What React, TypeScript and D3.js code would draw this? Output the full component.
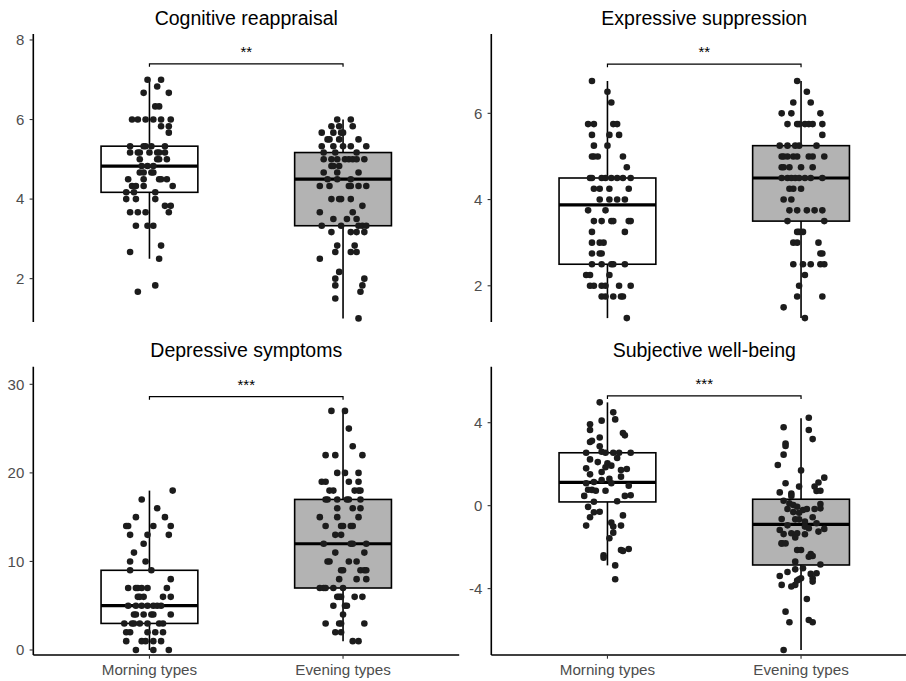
import React from 'react';
import * as d3 from 'd3';

// group labels and panel titles
const groups = ['Morning types', 'Evening types'];
const titles = ['Cognitive reappraisal', 'Expressive suppression', 'Depressive symptoms', 'Subjective well-being'];

// y tick values and axis limits per panel
const yTicks = [[2, 4, 6, 8], [2, 4, 6], [0, 10, 20, 30], [-4, 0, 4]];
const yLimits = [[0.91, 8.15], [1.16, 7.84], [-0.565, 31.99], [-7.2, 6.7]];

// significance brackets
const sigLabels = ['**', '**', '***', '***'];
const sigHeights = [7.4, 7.14, 28.6, 5.29];

// box stats: [whisker low, q1, median, q3, whisker high]
const boxMorning = [[2.5, 4.17, 4.83, 5.33, 7], [1.25, 2.5, 3.875, 4.5, 6.75], [0, 3, 5, 9, 18], [-2.88, 0.18, 1.12, 2.55, 4.98]];
const boxEvening = [[1, 3.33, 4.5, 5.17, 6], [1.25, 3.5, 4.5, 5.25, 6.75], [1, 7, 12, 17, 27], [-6.96, -2.86, -0.9, 0.31, 4.21]];

// raw points: [value, jitter]
const cogMorning: [number, number][] = [
  [7, -0.01], [7, 0.06], [6.83, 0.04], [6.67, -0.03], [6.67, 0.1], [6.33, 0.03], [6.33, 0.05],
  [6, -0.09], [6, -0.06], [6, -0.02], [6, 0.02], [6, 0.06], [6, 0.11], [5.83, 0.06], [5.83, 0.1], [5.67, 0.1],
  [5.33, -0.1], [5.33, -0.03], [5.33, -0.02], [5.33, 0.01], [5.33, 0.08],
  [5.17, -0.1], [5.17, -0.06], [5.17, -0.05], [5.17, 0], [5.17, 0.04], [5.17, 0.05], [5.17, 0.08],
  [5, -0.05], [5, 0.04], [5, 0.05], [5, 0.09], [4.83, -0.04], [4.83, -0.01], [4.83, 0.02],
  [4.67, -0.05], [4.67, -0.03], [4.67, 0.01], [4.67, 0.02],
  [4.5, -0.11], [4.5, -0.03], [4.5, 0.05], [4.5, 0.06], [4.5, 0.09],
  [4.33, -0.09], [4.33, -0.07], [4.33, -0.03], [4.33, 0.12], [4.17, -0.12], [4.17, -0.08], [4.17, 0.03],
  [4, -0.12], [4, -0.07], [4, 0.03], [3.83, 0.08], [3.83, 0.11],
  [3.67, -0.1], [3.67, -0.06], [3.67, -0.02], [3.67, 0.1], [3.33, -0.07], [3.33, -0.01], [3.33, 0.02],
  [2.83, 0.06], [2.67, -0.1], [2.5, 0.05], [1.83, 0.03], [1.67, -0.06],
];
const cogEvening: [number, number][] = [
  [6, -0.03], [6, 0.04], [5.83, -0.06], [5.83, -0.02], [5.83, 0.05],
  [5.67, -0.11], [5.67, -0.05], [5.67, -0.01], [5.67, 0], [5.5, -0.08], [5.5, -0.07], [5.5, -0.02], [5.5, 0.08],
  [5.33, -0.11], [5.33, -0.05], [5.33, 0], [5.33, 0.04], [5.33, 0.12], [5.17, -0.1], [5.17, -0.04], [5.17, 0.07],
  [5, -0.1], [5, -0.06], [5, -0.03], [5, 0.01], [5, 0.03], [5, 0.05], [5, 0.07], [5, 0.11],
  [4.83, -0.06], [4.83, -0.05], [4.83, -0.02], [4.67, -0.1], [4.67, -0.03], [4.67, 0.08],
  [4.5, -0.08], [4.5, -0.03], [4.5, 0.04], [4.33, -0.12], [4.33, -0.07], [4.33, 0.03], [4.33, 0.04], [4.33, 0.08], [4.33, 0.12],
  [4, -0.06], [4, -0.02], [4, -0.01], [4, 0.04], [3.83, 0.1], [3.67, -0.12], [3.67, 0.05],
  [3.5, -0.05], [3.5, 0.02], [3.5, 0.07], [3.33, -0.11], [3.33, -0.01], [3.33, 0.08], [3.33, 0.1], [3.33, 0.12],
  [3.17, -0.06], [3.17, 0.04], [3.17, 0.07], [3.17, 0.11], [2.83, -0.03], [2.83, 0.06],
  [2.67, -0.04], [2.67, 0.04], [2.67, 0.07], [2.5, -0.12], [2.17, -0.02], [2, -0.04], [2, 0.11],
  [1.83, -0.04], [1.83, 0.1], [1.67, 0.09], [1.5, -0.04], [1, 0.08],
];
const exprMorning: [number, number][] = [
  [6.75, -0.08], [6.5, 0], [6.25, 0.02], [5.75, -0.1], [5.75, -0.07], [5.75, 0.03], [5.75, 0.05],
  [5.5, -0.08], [5.5, 0.01], [5.5, 0.06], [5.25, -0.07], [5.25, 0],
  [5, -0.08], [5, -0.07], [5, -0.05], [5, 0.08], [4.75, 0.1],
  [4.5, -0.09], [4.5, -0.08], [4.5, -0.03], [4.5, -0.01], [4.5, 0.02], [4.5, 0.05], [4.5, 0.08], [4.5, 0.12],
  [4.25, -0.07], [4.25, -0.04], [4.25, 0.01], [4.25, 0.11], [4, -0.04], [4, 0.01], [4, 0.05], [4, 0.09],
  [3.75, -0.1], [3.75, -0.01], [3.5, -0.07], [3.5, -0.03], [3.5, 0.02], [3.5, 0.03], [3.5, 0.11], [3.5, 0.12],
  [3.25, -0.08], [3.25, 0.09], [3, -0.08], [3, -0.04], [3, -0.02], [2.75, -0.08], [2.75, -0.04], [2.75, -0.03],
  [2.5, -0.08], [2.5, -0.03], [2.5, 0.02], [2.5, 0.03], [2.5, 0.09], [2.25, -0.11], [2.25, -0.09], [2.25, 0.01],
  [2, -0.09], [2, -0.07], [2, -0.03], [2, -0.01], [2, 0.06], [2, 0.12],
  [1.75, -0.03], [1.75, -0.01], [1.75, 0.03], [1.75, 0.07], [1.75, 0.08], [1.25, 0.1],
];
const exprEvening: [number, number][] = [
  [6.75, -0.02], [6.5, 0.03], [6.25, -0.04], [6.25, 0.05], [6, -0.1], [6, -0.05], [6, 0.1],
  [5.75, -0.07], [5.75, -0.02], [5.75, -0.01], [5.75, 0.02], [5.75, 0.04], [5.75, 0.06], [5.75, 0.11], [5.5, 0.11],
  [5.25, -0.11], [5.25, -0.07], [5.25, -0.03], [5.25, -0.01], [5.25, 0.08],
  [5, -0.1], [5, -0.09], [5, -0.07], [5, -0.04], [5, -0.02], [5, 0.04], [5, 0.06], [5, 0.12],
  [4.75, -0.1], [4.75, -0.09], [4.75, -0.06], [4.75, 0], [4.75, 0.06],
  [4.5, -0.1], [4.5, -0.07], [4.5, -0.05], [4.5, -0.03], [4.5, -0.01], [4.5, 0.02], [4.5, 0.05], [4.5, 0.11],
  [4.25, -0.06], [4.25, -0.04], [4.25, 0], [4, -0.09], [4, -0.05],
  [3.75, -0.06], [3.75, -0.02], [3.75, 0.03], [3.75, 0.07], [3.75, 0.11], [3.5, -0.07], [3.5, 0.12],
  [3.25, -0.02], [3.25, -0.01], [3.25, 0.01], [3, -0.04], [3, -0.02], [3, 0.09], [2.75, 0.1], [2.75, 0.11],
  [2.5, -0.04], [2.5, 0.01], [2.5, 0.05], [2.5, 0.1], [2.5, 0.12], [2.25, 0.02], [2, -0.01],
  [1.75, -0.02], [1.75, 0.11], [1.5, -0.09], [1.25, 0.02],
];
const depMorning: [number, number][] = [
  [18, 0.12], [17, -0.04], [16, 0.04], [15, -0.07], [15, 0.08], [14, -0.12], [14, -0.11], [14, 0.02], [14, 0.11],
  [13, -0.1], [13, -0.01], [13, 0.1], [12, -0.03], [11, -0.08], [10, -0.1], [10, -0.02], [9, -0.1], [9, 0.01], [8, 0.11],
  [7, -0.11], [7, -0.07], [7, -0.06], [7, -0.04], [7, -0.01], [7, 0.09],
  [6, -0.06], [6, -0.05], [6, -0.03], [6, 0.07], [6, 0.11],
  [5, -0.11], [5, -0.07], [5, -0.04], [5, -0.01], [5, 0.02], [5, 0.04], [5, 0.06],
  [4, -0.08], [4, -0.07], [4, -0.03], [4, 0.01], [4, 0.02], [4, 0.11],
  [3, -0.13], [3, -0.09], [3, -0.08], [3, -0.05], [3, -0.01], [3, 0.05], [3, 0.07],
  [2, -0.12], [2, -0.1], [2, -0.01], [2, 0.03], [2, 0.07],
  [1, -0.12], [1, -0.04], [1, -0.02], [1, 0.02], [1, 0.06], [0, -0.07], [0, 0.02], [0, 0.1],
];
const depEvening: [number, number][] = [
  [27, -0.06], [27, 0.01], [25, 0.03], [23, 0.05], [22, -0.09], [22, -0.04], [22, 0.1],
  [20, -0.03], [20, 0.01], [20, 0.08], [19, -0.11], [19, -0.09], [19, 0.03], [19, 0.08],
  [18, -0.07], [18, -0.05], [18, 0.06], [18, 0.08], [18, 0.09],
  [17, -0.09], [17, -0.08], [17, -0.03], [17, 0.02], [17, 0.03], [17, 0.09],
  [16, -0.03], [16, 0.05], [16, 0.09], [15, -0.12], [15, -0.03], [15, 0.08],
  [14, -0.09], [14, -0.01], [14, 0], [14, 0.04], [14, 0.05], [13, -0.04], [13, -0.01],
  [12, -0.1], [12, 0.04], [12, 0.05], [12, 0.12], [11, -0.04], [11, 0.11],
  [10, -0.08], [10, -0.07], [10, 0.03], [10, 0.07], [9, -0.01], [9, 0], [9, 0.09], [9, 0.11], [9, 0.12],
  [8, -0.02], [8, 0.07], [8, 0.12], [7, -0.12], [7, -0.1], [7, -0.09], [7, -0.05], [7, 0],
  [6, -0.03], [6, -0.02], [6, -0.01], [6, 0.06], [6, 0.1], [5, -0.05], [5, 0.01], [5, 0.02], [4, 0],
  [3, -0.09], [3, -0.02], [3, -0.01], [3, 0.11], [2, -0.04], [2, -0.01], [1, 0.05], [1, 0.08],
];
const wbMorning: [number, number][] = [
  [4.98, -0.04], [4.5, 0.03], [4.16, 0.04], [4.1, -0.03], [3.92, -0.09], [3.65, -0.09], [3.5, 0.08], [3.39, 0.09],
  [3.29, -0.04], [3.13, -0.08], [3.07, -0.09], [2.86, -0.04], [2.55, -0.11], [2.6, -0.03], [2.55, -0.01],
  [2.55, 0.03], [2.55, 0.06], [2.55, 0.12], [2.23, -0.09], [2.3, 0.05], [2.1, -0.05], [2.04, 0], [1.93, 0.02],
  [1.8, -0.11], [1.85, -0.01], [1.77, 0.1], [1.72, 0.07], [1.51, -0.09], [1.62, -0.03], [1.4, 0.07], [1.29, 0.01],
  [1.24, -0.03], [1.08, -0.11], [1.14, -0.07], [1.08, 0.02], [0.77, -0.1], [0.76, -0.08], [0.72, -0.06],
  [0.72, -0.01], [0.96, 0.11], [0.47, -0.12], [0.5, 0.12], [0.47, 0.09], [0.19, -0.07], [0.21, 0.05],
  [-0.06, -0.1], [-0.32, -0.07], [-0.29, -0.04], [-0.56, -0.09], [-0.47, 0.08], [-0.96, -0.11], [-0.82, 0.02],
  [-1.01, 0.03], [-0.96, 0.07], [-1.3, 0.03], [-1.57, 0.01], [-2.39, -0.02], [-2.51, -0.02], [-2.14, 0.07],
  [-2.18, 0.08], [-2.09, 0.11], [-2.88, 0.04], [-3.55, 0.04],
];
const wbEvening: [number, number][] = [
  [4.24, 0.04], [3.65, 0.04], [3.21, 0.06], [3.78, -0.09], [3, -0.08], [2.88, -0.08], [2.46, -0.09], [1.96, -0.12],
  [1.7, 0], [1.35, 0.12], [1.12, 0.09], [1.08, -0.08], [0.92, 0.07], [0.92, -0.01], [0.71, 0.08], [0.72, 0.1],
  [0.64, -0.11], [0.59, -0.05], [0.47, -0.05], [0.24, -0.09], [0.11, -0.06], [0.08, 0.1], [0.03, -0.04],
  [-0.05, -0.02], [-0.16, -0.07], [-0.21, 0.01], [-0.16, 0.03], [-0.16, 0.07], [-0.13, 0.1], [-0.31, -0.04],
  [-0.34, -0.01], [-0.64, -0.1], [-0.66, -0.03], [-0.66, -0.01], [-0.76, 0.02], [-0.56, 0.06], [-0.85, 0.08],
  [-1.12, 0.12], [-1.25, 0.09], [-1.01, 0.02], [-1.09, 0.04], [-1.17, -0.11], [-0.95, -0.07], [-1.33, -0.02],
  [-1.37, -0.09], [-1.33, -0.05], [-1.82, -0.1], [-1.82, -0.1], [-1.82, -0.08], [-1.38, 0.02], [-1.53, -0.03],
  [-2.14, -0.02], [-2.14, 0], [-2.46, 0.04], [-2.33, 0.05], [-2.43, 0.06], [-2.7, -0.03], [-2.84, 0.1],
  [-3.02, 0.01], [-3.07, -0.03], [-3.2, -0.07], [-3.29, 0.05], [-3.26, 0.08], [-3.39, -0.11], [-3.5, 0],
  [-3.55, -0.01], [-3.61, -0.02], [-3.5, 0.06], [-3.66, 0.06], [-3.82, -0.03], [-3.9, -0.05], [-3.82, -0.1],
  [-4.5, 0.03], [-5.11, -0.08], [-5.62, -0.06], [-5.51, 0.04], [-5.62, 0.06], [-6.96, -0.09],
];

const points = [
  [cogMorning, cogEvening],
  [exprMorning, exprEvening],
  [depMorning, depEvening],
  [wbMorning, wbEvening],
];
const boxes = [boxMorning, boxEvening];

const FONT = '"Liberation Sans", Arial, Helvetica, sans-serif';
const boxFills = ['#ffffff', '#b3b3b3'];

const Panel = ({ i, left, top, bottom, showX }) => {
  const x = d3.scaleLinear().domain([0.4, 2.6]).range([left, left + 425.9]);
  const y = d3.scaleLinear().domain(yLimits[i]).range([bottom, top]);
  const halfW = 0.25;
  const x1 = x(1), x2 = x(2);
  const yb = y(sigHeights[i]);

  return (
    <g>
      <text x={(x.range()[0] + x.range()[1]) / 2} y={top - 9.5} textAnchor="middle"
        fontSize={19.5} fill="#000">{titles[i]}</text>

      {groups.map((g, gi) => {
        const [lo, q1, med, q3, hi] = boxes[gi][i];
        const cx = x(gi + 1);
        return (
          <g key={g}>
            <line x1={cx} x2={cx} y1={y(hi)} y2={y(q3)} stroke="#000" strokeWidth={1.6} />
            <line x1={cx} x2={cx} y1={y(q1)} y2={y(lo)} stroke="#000" strokeWidth={1.6} />
            <rect x={x(gi + 1 - halfW)} width={x(gi + 1 + halfW) - x(gi + 1 - halfW)}
              y={y(q3)} height={y(q1) - y(q3)} fill={boxFills[gi]} stroke="#000" strokeWidth={1.6} />
            <line x1={x(gi + 1 - halfW)} x2={x(gi + 1 + halfW)} y1={y(med)} y2={y(med)}
              stroke="#000" strokeWidth={3.2} />
          </g>
        );
      })}

      {points[i].map((pts, gi) =>
        pts.map(([v, j], k) => (
          <circle key={`${gi}-${k}`} cx={x(gi + 1 + j)} cy={y(v)} r={3.3} fill="#1c1c1c" />
        ))
      )}

      {/* significance bracket */}
      <path d={`M${x1},${yb + 3}V${yb}H${x2}V${yb + 3}`} fill="none" stroke="#000" strokeWidth={1.2} />
      <text x={(x1 + x2) / 2} y={yb - 7} textAnchor="middle" fontSize={15} fill="#000">{sigLabels[i]}</text>

      {/* y axis */}
      <line x1={left} x2={left} y1={top} y2={bottom} stroke="#000" strokeWidth={1.6} />
      {yTicks[i].map((t) => (
        <g key={t}>
          <line x1={left - 3.7} x2={left} y1={y(t)} y2={y(t)} stroke="#333" strokeWidth={1.1} />
          <text x={left - 9} y={y(t)} dy="0.36em" textAnchor="end" fontSize={15} fill="#4d4d4d">{t}</text>
        </g>
      ))}

      {showX && (
        <g>
          <line x1={left} x2={x.range()[1]} y1={bottom} y2={bottom} stroke="#000" strokeWidth={1.6} />
          {groups.map((g, gi) => (
            <g key={g}>
              <line x1={x(gi + 1)} x2={x(gi + 1)} y1={bottom} y2={bottom + 3.7} stroke="#333" strokeWidth={1.1} />
              <text x={x(gi + 1)} y={bottom + 20} textAnchor="middle" fontSize={15.2} fill="#4d4d4d">{g}</text>
            </g>
          ))}
        </g>
      )}
    </g>
  );
};

const App = () => {
  const lefts = [33.3, 491.3];
  const rows = [[34, 322], [366.7, 655]];
  return (
    <div style={{ position: 'absolute', left: 0, top: 0 }}>
      <svg width={906} height={681} style={{ display: 'block', background: '#fff', fontFamily: FONT }}>
        {titles.map((t, i) => (
          <Panel key={t} i={i} left={lefts[i % 2]} top={rows[Math.floor(i / 2)][0]}
            bottom={rows[Math.floor(i / 2)][1]} showX={i >= 2} />
        ))}
      </svg>
    </div>
  );
};

export default App;
